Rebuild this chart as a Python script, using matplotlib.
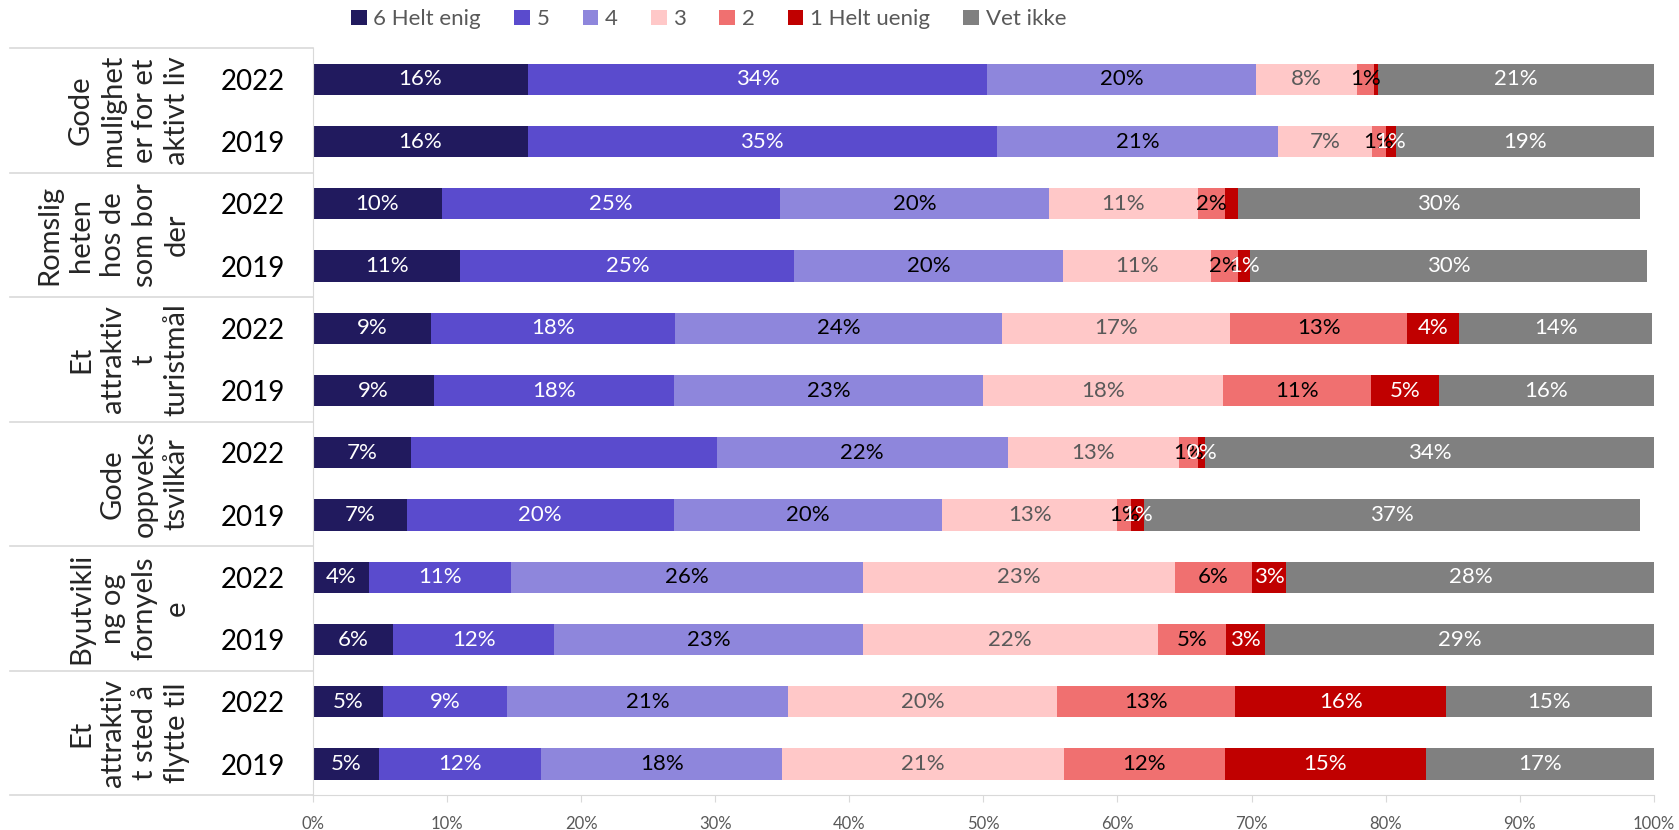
import matplotlib.pyplot as plt
import numpy as np

plt.rcParams['font.family'] = ['Lato', 'DejaVu Sans']

# kategorier (ovenfra og ned) og år
groups = ["Gode\nmulighet\ner for et\naktivt liv",
          "Romslig\nheten\nhos de\nsom bor\nder",
          "Et\nattraktiv\nt\nturistmål",
          "Gode\noppveks\ntsvilkår",
          "Byutvikli\nng og\nfornyels\ne",
          "Et\nattraktiv\nt sted å\nflytte til"]
years = ["2022", "2019"]

series_names = ["6 Helt enig", "5", "4", "3", "2", "1 Helt uenig", "Vet ikke"]
s6 = [16.0, 16.0, 9.6, 11.0, 8.8, 9.0, 7.3, 7.0, 4.2, 6.0, 5.2, 4.9]
s5 = [34.3, 35.0, 25.2, 24.9, 18.2, 17.9, 22.8, 19.9, 10.6, 12.0, 9.3, 12.1]
s4 = [20.0, 21.0, 20.1, 20.0, 24.4, 23.1, 21.7, 20.0, 26.2, 23.0, 20.9, 18.0]
s3 = [7.6, 7.0, 11.1, 11.1, 17.0, 17.9, 12.8, 13.1, 23.3, 22.0, 20.1, 21.0]
s2 = [1.2, 1.0, 2.0, 2.0, 13.2, 11.0, 1.4, 1.0, 5.7, 5.1, 13.3, 12.0]
s1 = [0.3, 0.8, 1.0, 0.9, 3.9, 5.1, 0.5, 1.0, 2.6, 2.9, 15.7, 15.0]
vet = [20.6, 19.2, 30.0, 29.6, 14.4, 16.0, 33.6, 37.0, 27.5, 29.0, 15.4, 17.0]

colors = ['#211a5e', '#5a4bcd', '#8e86dc', '#ffc8c8', '#f07070', '#c00000', '#808080']
label_colors = ['white', 'white', 'black', '#595959', 'black', 'white', 'white']
hidden = {(1, 6), (5, 2)}  # etiketter som mangler i originalen

data = [s6, s5, s4, s3, s2, s1, vet]
n = len(s6)
y = np.arange(n)

fig = plt.figure(figsize=(16.79, 8.30), dpi=100)
ax = fig.add_axes([0.1864, 0.042, 0.7986, 0.900])

left = np.zeros(n)
for i, vals in enumerate(data):
    vals = np.array(vals)
    ax.barh(y, vals, left=left, height=0.5, color=colors[i], label=series_names[i])
    for j, v in enumerate(vals):
        if v < 0.45 or (i, j) in hidden:
            continue
        ax.text(left[j] + v / 2, j, f"{v:.0f}%", ha='center', va='center',
                color=label_colors[i], fontsize=16)
    left += vals

ax.set_xlim(0, 100)
ax.set_ylim(n - 0.5, -0.5)
ax.set_xticks(np.arange(0, 101, 10))
ax.set_xticklabels([f"{t}%" for t in range(0, 101, 10)], color='#595959', fontsize=12)
ax.tick_params(axis='x', length=5, color='#d9d9d9', pad=10)
ax.set_yticks(y)
ax.set_yticklabels(years * len(groups), fontsize=20)
ax.tick_params(axis='y', length=0, pad=20)
for s in ['top', 'right']:
    ax.spines[s].set_visible(False)
for s in ['left', 'bottom']:
    ax.spines[s].set_color('#d9d9d9')

# grupperingslinjer og gruppetekster
for k in range(len(groups) + 1):
    yb = 2 * k - 0.5
    ax.plot([-0.226, 0], [yb, yb], transform=ax.get_yaxis_transform(), color='#d9d9d9',
            lw=1.2, clip_on=False)
for k, g in enumerate(groups):
    ax.text(-0.092, 2 * k + 0.5, g, transform=ax.get_yaxis_transform(), rotation=90,
            ha='right', va='center', multialignment='center', fontsize=21,
            linespacing=1.28, color='#262626')

fig.legend(loc='center', bbox_to_anchor=(0.422, 0.977), ncol=7, frameon=False,
           fontsize=16, handlelength=0.7, handleheight=0.7, handletextpad=0.3,
           columnspacing=1.5, labelcolor='#595959')

fig.savefig('out.png', dpi=100)
